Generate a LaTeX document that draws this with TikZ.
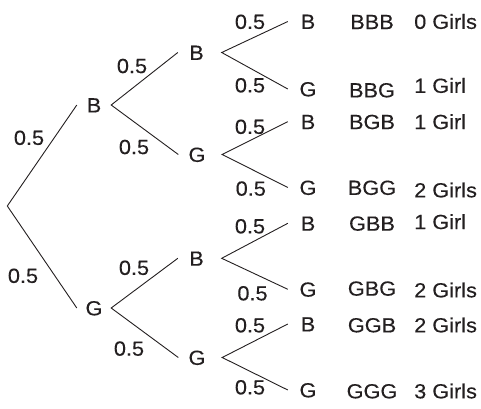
\documentclass[tikz,border=0pt]{standalone}
\usepackage{fontspec}
\setmainfont{Liberation Sans}[FakeStretch=1.06,FakeBold=0.3]
\definecolor{ink}{HTML}{231F20}
\begin{document}
\begin{tikzpicture}[x=1pt,y=-1pt,
  every node/.style={font=\fontsize{20.5pt}{24pt}\selectfont, text=ink, inner sep=0pt, text height=14.7pt, text depth=0pt},
  br/.style={draw=ink, line width=0.9pt},
  lvA/.style={minimum width=34pt},
  lvB/.style={minimum width=37pt},
  lvC/.style={minimum width=40pt},
  prob/.style={},
  res/.style={},
  gl/.style={anchor=west}]
\useasboundingbox (0,0) rectangle (481,408);
\coordinate (root) at (7.3,206);
% level 1
\node[lvA] (b1) at (94,105) {B};
\node[lvA] (g1) at (94,308) {G};
% level 2
\node[lvB] (bb) at (196.5,52.5) {B};
\node[lvB] (bg) at (197,154.5) {G};
\node[lvB] (gb) at (196.5,258.3) {B};
\node[lvB] (gg) at (197,357.5) {G};
% level 3
\node[lvC] (bbb) at (308,21.5) {B};
\node[lvC] (bbg) at (308,89) {G};
\node[lvC] (bgb) at (308,121.7) {B};
\node[lvC] (bgg) at (308,187.5) {G};
\node[lvC] (gbb) at (308,223.3) {B};
\node[lvC] (gbg) at (308,289.3) {G};
\node[lvC] (ggb) at (308,324) {B};
\node[lvC] (ggg) at (308,390) {G};
% branches
\draw[br] (b1.west) -- (root) -- (g1.west);
\draw[br] (bb.west) -- (b1.east) -- (bg.west);
\draw[br] (gb.west) -- (g1.east) -- (gg.west);
\draw[br] (bbb.west) -- ([xshift=6.5pt]bb.east) -- (bbg.west);
\draw[br] (bgb.west) -- ([xshift=6.5pt]bg.east) -- (bgg.west);
\draw[br] (gbb.west) -- ([xshift=6.5pt]gb.east) -- (gbg.west);
\draw[br] (ggb.west) -- ([xshift=6.5pt]gg.east) -- (ggg.west);
% probabilities
\node[prob] (p1) at (29,137.5) {0.5};
\node[prob] (p2) at (23,275.5) {0.5};
\node[prob] (p3) at (132,65.7) {0.5};
\node[prob] (p4) at (134,146.7) {0.5};
\node[prob] (p5) at (134,267.5) {0.5};
\node[prob] (p6) at (129,348.3) {0.5};
\node[prob] (p7) at (250,21.5) {0.5};
\node[prob] (p8) at (250,85) {0.5};
\node[prob] (p9) at (250,126.5) {0.5};
\node[prob] (p10) at (250.8,188.3) {0.5};
\node[prob] (p11) at (250,226) {0.5};
\node[prob] (p12) at (252.5,293) {0.5};
\node[prob] (p13) at (250,325) {0.5};
\node[prob] (p14) at (250,387) {0.5};
% outcomes
\node[res] (o1) at (372,21.7) {BBB};
\node[res] (o2) at (372,90) {BBG};
\node[res] (o3) at (372,121.7) {BGB};
\node[res] (o4) at (372,187.5) {BGG};
\node[res] (o5) at (372,223.3) {GBB};
\node[res] (o6) at (372,288.3) {GBG};
\node[res] (o7) at (372,325) {GGB};
\node[res] (o8) at (372,391) {GGG};
% girls count
\node[gl] (c1) at (414,21.5) {0 Girls};
\node[gl] (c2) at (414,85.5) {1 Girl};
\node[gl] (c3) at (414,121.7) {1 Girl};
\node[gl] (c4) at (414,190) {2 Girls};
\node[gl] (c5) at (414,221.7) {1 Girl};
\node[gl] (c6) at (414,290) {2 Girls};
\node[gl] (c7) at (414,325) {2 Girls};
\node[gl] (c8) at (414,391) {3 Girls};
\end{tikzpicture}
\end{document}
